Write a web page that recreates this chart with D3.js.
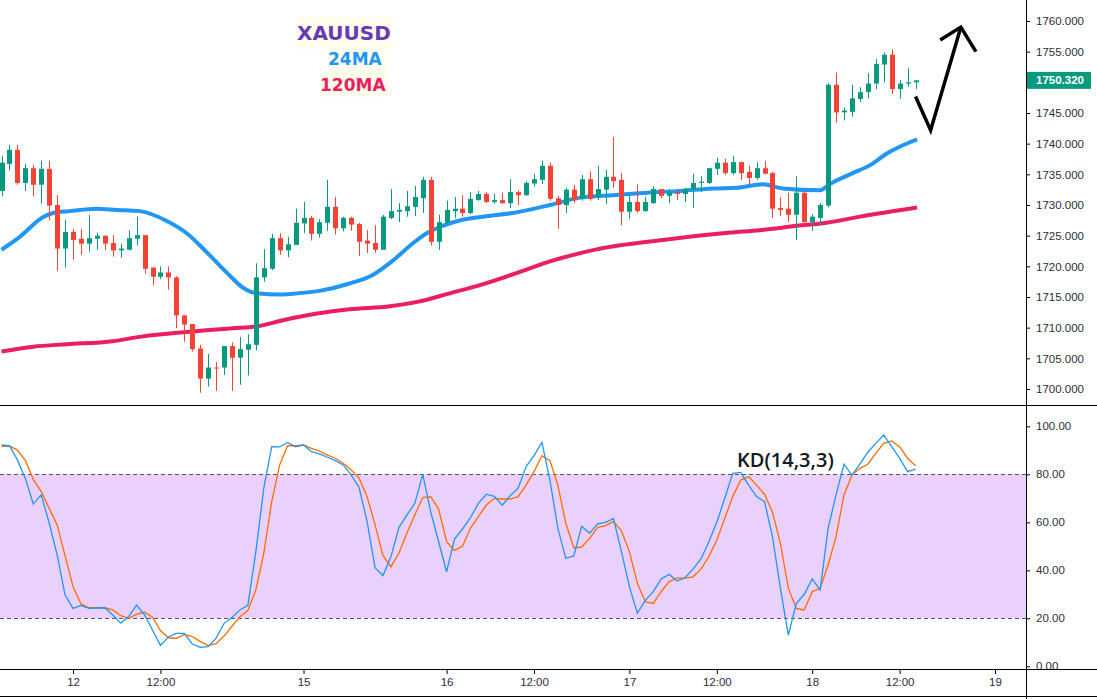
<!DOCTYPE html>
<html>
<head>
<meta charset="utf-8">
<script src="https://cdn.jsdelivr.net/npm/d3@7"></script>
<style>
  html, body { margin: 0; padding: 0; background: #fff; }
  svg { display: block; }
  .ax text { font-family: "Liberation Sans", Arial, sans-serif; font-size: 11.5px; fill: #2a2e39; }
  .ax line { stroke: #000; }
  .ax path { display: none; }
</style>
</head>
<body>
<div id="chart"></div>
<script>
// hourly candles, bar index 0..115
var opens  = [1732.3,1736.7,1739.0,1733.6,1736.0,1733.3,1735.9,1730.0,1722.9,1725.6,
              1724.5,1723.7,1724.5,1725.0,1723.8,1722.6,1722.7,1724.5,1725.1,1719.8,
              1718.3,1719.0,1718.2,1712.0,1710.6,1706.6,1701.7,1703.5,1703.5,1707.0,
              1705.1,1706.4,1707.2,1718.2,1719.6,1724.6,1722.6,1723.5,1727.0,1727.9,
              1725.3,1727.1,1729.7,1726.2,1727.9,1726.9,1724.2,1723.8,1722.7,1727.9,
              1728.9,1729.0,1729.7,1731.1,1734.1,1724.0,1727.1,1729.0,1729.4,1728.7,
              1730.8,1731.8,1730.5,1730.8,1730.3,1732.1,1731.6,1733.5,1734.1,1736.4,
              1731.1,1730.0,1732.5,1731.0,1734.2,1731.3,1732.5,1734.6,1734.1,1728.9,
              1730.5,1729.0,1730.3,1732.6,1731.5,1732.0,1731.8,1732.5,1733.6,1733.6,
              1735.9,1736.9,1735.2,1737.0,1735.4,1734.4,1736.0,1735.2,1729.5,1729.4,
              1728.4,1732.0,1727.2,1727.9,1729.9,1749.6,1745.1,1745.2,1747.3,1748.4,
              1749.8,1752.9,1754.5,1748.9,1749.8,1750.0];
var highs  = [1738.0,1739.8,1739.8,1736.7,1736.5,1737.2,1737.2,1731.6,1727.6,1726.1,
              1726.1,1728.4,1725.5,1725.0,1725.1,1723.7,1725.9,1728.1,1725.1,1719.8,
              1720.0,1720.0,1718.4,1712.0,1710.6,1707.2,1705.7,1704.4,1707.0,1707.6,
              1708.5,1708.9,1720.5,1722.8,1725.3,1725.4,1724.8,1729.4,1730.5,1728.2,
              1727.7,1734.1,1731.3,1728.1,1728.1,1727.1,1725.9,1726.7,1728.4,1732.6,
              1730.3,1732.3,1733.1,1734.6,1734.6,1728.4,1730.7,1731.3,1731.6,1732.1,
              1732.3,1732.1,1731.8,1732.0,1734.2,1732.4,1733.9,1735.1,1737.2,1736.9,
              1731.5,1732.8,1733.3,1734.9,1735.5,1736.4,1735.7,1741.1,1735.2,1731.6,
              1733.4,1731.3,1733.1,1732.6,1732.6,1732.6,1732.8,1735.1,1734.7,1736.0,
              1737.7,1737.5,1738.0,1737.0,1736.4,1737.0,1737.2,1735.4,1731.3,1732.0,
              1734.7,1732.3,1728.5,1730.3,1749.9,1751.6,1745.9,1749.6,1749.2,1751.5,
              1753.8,1754.9,1755.4,1750.4,1752.3,1750.4];
var lows   = [1731.4,1735.6,1733.3,1732.3,1731.4,1730.2,1727.5,1719.3,1719.8,1721.1,
              1721.9,1722.4,1722.7,1722.6,1721.6,1721.4,1722.6,1723.4,1718.8,1716.9,
              1717.9,1716.2,1709.9,1707.7,1706.1,1699.4,1700.4,1699.7,1702.3,1699.7,
              1700.7,1702.2,1706.3,1717.5,1719.4,1721.9,1721.5,1723.5,1725.4,1724.2,
              1724.7,1725.8,1725.2,1725.7,1725.8,1721.7,1722.2,1722.2,1722.7,1727.7,
              1727.2,1728.1,1728.2,1728.7,1723.4,1722.7,1726.9,1727.9,1728.1,1728.5,
              1730.7,1730.3,1730.2,1730.2,1729.5,1730.0,1731.5,1733.0,1733.4,1730.7,
              1726.1,1728.7,1730.3,1730.7,1730.7,1730.8,1730.2,1732.8,1726.7,1727.7,
              1728.7,1728.9,1730.2,1731.1,1730.3,1730.8,1730.5,1729.5,1732.1,1733.4,
              1734.9,1734.9,1734.9,1734.1,1733.4,1734.1,1735.0,1727.9,1728.2,1727.2,
              1724.3,1727.2,1725.8,1726.7,1729.6,1743.4,1743.8,1744.4,1746.8,1747.4,
              1748.9,1750.0,1748.1,1747.3,1749.3,1748.9];
var closes = [1736.9,1739.0,1733.6,1736.0,1733.3,1735.9,1729.9,1722.9,1725.6,1724.3,
              1723.7,1724.6,1725.0,1723.7,1722.6,1722.9,1724.6,1725.1,1719.6,1718.3,
              1719.0,1718.2,1712.0,1710.5,1706.5,1701.7,1703.5,1703.4,1707.0,1705.1,
              1706.5,1707.3,1718.2,1719.7,1724.6,1722.6,1723.6,1727.1,1727.9,1725.3,
              1727.2,1729.7,1726.2,1727.9,1726.8,1724.0,1723.7,1722.7,1728.1,1729.0,
              1729.2,1729.8,1731.3,1734.1,1724.0,1727.2,1729.2,1729.4,1728.7,1731.0,
              1731.8,1730.5,1730.8,1730.3,1732.1,1731.6,1733.6,1734.2,1736.4,1731.0,
              1730.0,1732.5,1730.8,1734.2,1731.0,1732.6,1734.6,1733.9,1728.9,1730.5,
              1729.0,1730.5,1732.6,1731.5,1732.0,1731.8,1732.6,1733.6,1733.8,1736.0,
              1736.9,1735.2,1737.0,1735.2,1734.4,1736.0,1735.1,1729.4,1729.2,1728.4,
              1732.0,1727.2,1728.1,1730.0,1749.6,1745.1,1745.4,1747.4,1748.4,1749.8,
              1753.0,1754.5,1748.9,1749.8,1750.0,1750.32];
var lastPrice = 1750.32;

// moving averages at these bar positions
var ma24Idx = [0,2.3,5.2,6.5,8.6,12,14.5,17.4,20.8,23.3,25.9,28.4,30.4,32.1,35,36.3,40,43.8,46.7,49.3,
               51.8,53.5,55.5,58,60.6,64.8,69,72.8,76.9,81.2,85.4,89.5,92.5,95.8,98.3,103,104.2,107.1,
               109.3,111.4,113,115.2];
var ma24   = [1722.7,1724.8,1728.0,1728.7,1729.0,1729.4,1729.2,1729.0,1727.4,1725.4,1722.2,1718.9,
              1716.5,1715.6,1715.4,1715.5,1716.0,1717.2,1718.6,1721.0,1723.8,1725.4,1726.6,1727.6,
              1728.1,1728.8,1730.0,1731.2,1731.6,1732.0,1732.3,1732.7,1732.8,1733.4,1732.7,1732.4,
              1733.4,1735.2,1736.5,1738.4,1739.5,1740.7];
var ma120Idx = [0,4,8.2,14,17.4,23.3,29.1,32.1,35.4,39.7,43.8,48.9,52.3,56.4,60.6,64.8,69,75,83.2,
                91.7,95.4,100.1,103.8,108,115.2];
var ma120  = [1706.1,1706.9,1707.3,1707.8,1708.5,1709.3,1709.9,1710.2,1711.2,1712.3,1713.0,1713.5,
              1714.2,1715.6,1717.1,1718.9,1720.8,1722.8,1724.3,1725.5,1725.9,1726.6,1727.1,1728.1,
              1729.6];

// KD(14,3,3)
var kVals = [92.2,91.9,86.0,78.3,67.6,71.4,59.7,46.4,29.7,24.1,25.4,24.1,24.3,24.4,21.4,18.0,20.7,25.5,21.4,15.1,
             8.7,12.2,13.7,13.7,9.3,7.9,8.2,11.7,17.9,20.3,23.5,25.4,47.8,74.2,91.5,91.4,93.3,91.5,92.2,89.4,
             88.5,87.1,85.7,83.9,79.7,74.4,60.3,41.1,37.8,45.7,57.8,63.0,67.9,80.0,64.4,51.9,39.4,53.0,57.2,61.9,
             67.9,71.7,70.8,67.1,71.1,74.2,83.2,87.8,93.3,77.6,57.5,45.0,46.0,58.3,55.5,59.4,60.0,61.5,47.8,33.2,
             22.1,27.5,31.1,36.4,38.3,35.5,36.9,40.5,44.7,51.9,60.0,70.0,80.4,80.8,75.5,70.7,68.6,54.0,32.5,13.0,
             26.2,30.0,36.4,31.8,57.5,71.4,84.2,79.7,84.2,89.2,92.9,96.4,91.5,86.7,81.1,82.2];
var dVals = [91.5,91.8,90.1,85.8,77.9,72.8,65.8,58.9,46.0,33.2,26.0,24.4,24.4,24.4,23.5,21.1,20.0,21.7,22.5,20.5,
             14.9,11.9,11.7,13.3,12.4,10.3,8.6,9.4,12.6,16.7,20.7,23.3,31.8,47.1,68.6,83.9,91.9,91.9,92.2,90.8,
             89.7,88.0,86.7,84.6,81.8,78.3,70.7,58.9,46.1,41.5,47.1,55.4,63.0,70.3,70.7,65.5,51.9,48.3,50.0,57.5,
             62.4,67.2,70.0,69.7,69.7,70.7,75.5,81.1,87.8,85.7,75.5,59.6,49.4,49.7,53.3,57.9,58.6,60.3,56.4,47.8,
             34.6,26.9,26.2,31.1,35.3,36.7,36.7,37.3,40.5,45.7,52.6,61.7,70.7,77.6,79.0,75.5,71.7,64.2,51.2,32.5,
             24.1,23.5,31.1,32.5,42.2,54.0,71.4,79.7,82.5,84.2,88.7,92.9,93.9,91.5,86.7,83.6];

var xTickIdx = [9,20,38,56,67,79,90,102,113,125];
var xTickLabels = ["12","12:00","15","16","12:00","17","12:00","18","12:00","19"];
var priceTicks = [1700,1705,1710,1715,1720,1725,1730,1735,1740,1745,1750,1755,1760];
var kdTicks = [0,20,40,60,80,100];

// hand-drawn arrow (bar index, price)
var arrowIdx = [115,116.9,120.7];
var arrowPx  = [1747.7,1742.2,1759.0];
var headIdx  = [118.1,120.7,122.6];
var headPx   = [1756.9,1759.0,1755.0];

var W = 1097, H = 699, axisX = 1026, mainBottom = 405, kdBottom = 669;

var svg = d3.select("#chart").append("svg").attr("width", W).attr("height", H);
svg.append("rect").attr("width", W).attr("height", H).attr("fill", "#fff");

var x = d3.scaleLinear().domain([0, 125]).range([1.5, 995]);
var yP = d3.scaleLinear().domain([1700, 1760]).range([389, 21]);
var yK = d3.scaleLinear().domain([0, 100]).range([666.3, 426.3]);

var defs = svg.append("defs");
defs.append("clipPath").attr("id", "clipMain").append("rect")
    .attr("x", 0).attr("y", 0).attr("width", axisX).attr("height", mainBottom);
defs.append("clipPath").attr("id", "clipKd").append("rect")
    .attr("x", 0).attr("y", mainBottom).attr("width", axisX).attr("height", kdBottom - mainBottom);

// ---- main panel
var main = svg.append("g").attr("clip-path", "url(#clipMain)");

// title block
var titles = [
  {t: "XAUUSD", c: "#673ab7", s: 20, x: 297, y: 40, bx: 296, by: 17, bw: 97, bh: 32},
  {t: "24MA",   c: "#2196f3", s: 17, x: 328, y: 65, bx: 327, by: 49, bw: 58, bh: 21},
  {t: "120MA",  c: "#e91e63", s: 17, x: 320, y: 91, bx: 319, by: 70, bw: 69, bh: 27}
];
titles.forEach(function(d) {
  main.append("rect").attr("x", d.bx).attr("y", d.by).attr("width", d.bw).attr("height", d.bh)
      .attr("fill", "#fffdeb");
  main.append("text").attr("x", d.x).attr("y", d.y).text(d.t)
      .attr("fill", d.c).attr("font-size", d.s).attr("font-weight", "bold")
      .attr("font-family", "'DejaVu Sans', sans-serif");
});

var maLine = d3.line().x(function(d) { return x(d[0]); }).y(function(d) { return yP(d[1]); })
    .curve(d3.curveMonotoneX);
main.append("path").datum(d3.zip(ma120Idx, ma120)).attr("d", maLine)
    .attr("fill", "none").attr("stroke", "#e91e63").attr("stroke-width", 4);
main.append("path").datum(d3.zip(ma24Idx, ma24)).attr("d", maLine)
    .attr("fill", "none").attr("stroke", "#2196f3").attr("stroke-width", 4);

var bars = d3.range(opens.length).map(function(i) {
  return {i: i, o: opens[i], h: highs[i], l: lows[i], c: closes[i]};
});
var up = "#089981", dn = "#f44336";
var candle = main.selectAll("g.candle").data(bars).enter().append("g").attr("class", "candle");
candle.append("line")
    .attr("x1", function(d) { return Math.round(x(d.i)) + 0.5; })
    .attr("x2", function(d) { return Math.round(x(d.i)) + 0.5; })
    .attr("y1", function(d) { return yP(d.h); })
    .attr("y2", function(d) { return yP(d.l); })
    .attr("stroke", function(d) { return d.c >= d.o ? up : dn; });
candle.append("rect")
    .attr("x", function(d) { return Math.round(x(d.i)) - 2; })
    .attr("width", 5)
    .attr("y", function(d) { return yP(Math.max(d.o, d.c)); })
    .attr("height", function(d) { return Math.max(1, Math.abs(yP(d.o) - yP(d.c))); })
    .attr("fill", function(d) { return d.c >= d.o ? up : dn; });

// arrow
var ptLine = d3.line().x(function(d) { return x(d[0]); }).y(function(d) { return yP(d[1]); });
main.append("path").datum(d3.zip(arrowIdx, arrowPx)).attr("d", ptLine)
    .attr("fill", "none").attr("stroke", "#000").attr("stroke-width", 3.5)
    .attr("stroke-linejoin", "miter");
main.append("path").datum(d3.zip(headIdx, headPx)).attr("d", ptLine)
    .attr("fill", "none").attr("stroke", "#000").attr("stroke-width", 3.5)
    .attr("stroke-linejoin", "miter");

// ---- KD panel
var kd = svg.append("g").attr("clip-path", "url(#clipKd)");
kd.append("rect").attr("x", 0).attr("width", axisX)
    .attr("y", yK(80)).attr("height", yK(20) - yK(80)).attr("fill", "#e9d0fd");
[80, 20].forEach(function(v) {
  kd.append("line").attr("x1", 0).attr("x2", axisX)
      .attr("y1", Math.round(yK(v)) + 0.5).attr("y2", Math.round(yK(v)) + 0.5)
      .attr("stroke", "#5b4f6a").attr("stroke-dasharray", "4,3");
});
var kdLine = d3.line().x(function(d, i) { return x(i); }).y(function(d) { return yK(d); });
kd.append("path").datum(dVals).attr("d", kdLine)
    .attr("fill", "none").attr("stroke", "#ff6d00").attr("stroke-width", 1.3);
kd.append("path").datum(kVals).attr("d", kdLine)
    .attr("fill", "none").attr("stroke", "#2196f3").attr("stroke-width", 1.3);
kd.append("text").attr("x", 737).attr("y", 467).text("KD(14,3,3)")
    .attr("font-family", "'Open Sans', sans-serif").attr("font-size", 20)
    .attr("font-weight", 600).attr("fill", "#131722");

// ---- axes
svg.append("g").attr("class", "ax").attr("transform", "translate(" + axisX + ",0)")
    .call(d3.axisRight(yP).tickValues(priceTicks).tickFormat(d3.format(".3f")).tickSize(4).tickPadding(6));
svg.append("g").attr("class", "ax").attr("transform", "translate(" + axisX + ",0)")
    .call(d3.axisRight(yK).tickValues(kdTicks).tickFormat(d3.format(".2f")).tickSize(4).tickPadding(6));
svg.append("g").attr("class", "ax").attr("transform", "translate(0," + kdBottom + ")")
    .call(d3.axisBottom(x).tickValues(xTickIdx)
      .tickFormat(function(d, i) { return xTickLabels[i]; }).tickSize(5).tickPadding(4));

// last price tag
var lp = svg.append("g");
lp.append("rect").attr("x", axisX + 1).attr("y", yP(lastPrice) - 8.5).attr("width", 64).attr("height", 17)
    .attr("fill", up);
lp.append("text").attr("x", axisX + 10).attr("y", yP(lastPrice) + 4).text(d3.format(".3f")(lastPrice))
    .attr("font-family", "'Liberation Sans', Arial, sans-serif").attr("font-size", 11.5)
    .attr("font-weight", "bold").attr("fill", "#fff");

// panel frame lines
svg.append("line").attr("x1", axisX + 0.5).attr("x2", axisX + 0.5).attr("y1", 0).attr("y2", H)
    .attr("stroke", "#000");
[mainBottom, kdBottom, 696].forEach(function(yy) {
  svg.append("line").attr("x1", 0).attr("x2", W).attr("y1", yy + 0.5).attr("y2", yy + 0.5)
      .attr("stroke", "#000");
});
</script>
</body>
</html>
